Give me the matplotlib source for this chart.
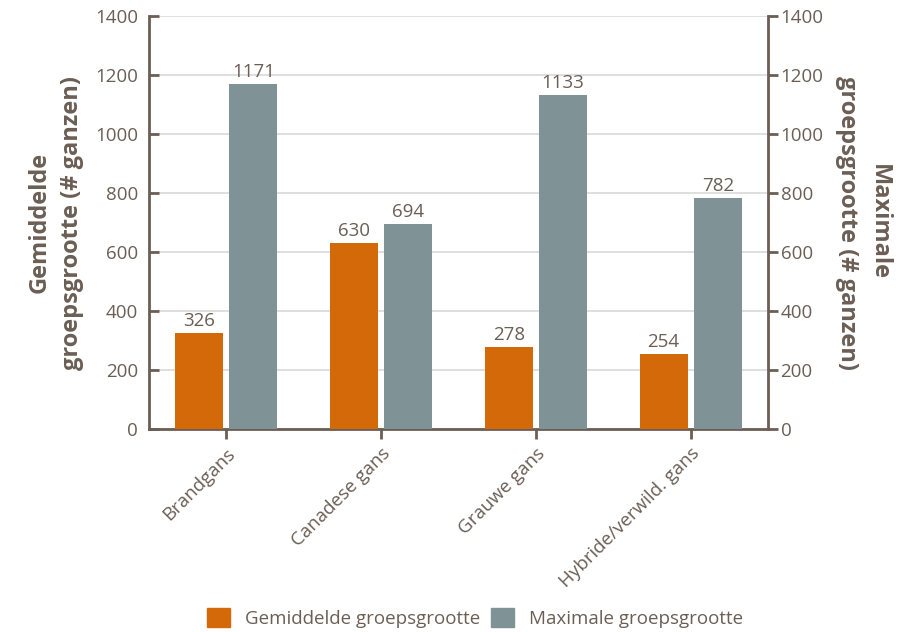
import numpy as np
import matplotlib.pyplot as plt
from matplotlib.patches import Patch

categories = ['Brandgans', 'Canadese gans', 'Grauwe gans', 'Hybride/verwild. gans']
gemiddelde = [326, 630, 278, 254]
maximale = [1171, 694, 1133, 782]

TXT = '#6B5E55'
ORANGE = '#D4690A'
GREY = '#7F9397'

plt.rcParams['font.family'] = ['Open Sans', 'DejaVu Sans']

fig = plt.figure(figsize=(9.15, 6.32), dpi=100)
ax = fig.add_axes([149 / 915, 1 - 429 / 632, (768 - 149) / 915, (429 - 16) / 632])

x = np.arange(len(categories))
w = 0.31
b1 = ax.bar(x - 0.175, gemiddelde, w, color=ORANGE, zorder=3)
b2 = ax.bar(x + 0.175, maximale, w, color=GREY, zorder=3)
for bars in (b1, b2):
    for r in bars:
        ax.text(r.get_x() + r.get_width() / 2, r.get_height() + 10, f'{int(r.get_height())}',
                ha='center', va='bottom', fontsize=13.5, color=TXT)

ax.set_xlim(-0.5, len(categories) - 0.5)
ax.set_ylim(0, 1400)
ax.set_yticks(range(0, 1401, 200))
ax.grid(axis='y', color='#D9D9D9', linewidth=1.2, zorder=0)
ax.set_xticks(x)
ax.set_xticklabels(categories, rotation=45, ha='right', rotation_mode='anchor')

for s in ['top', 'right']:
    ax.spines[s].set_visible(False)
for s in ['left', 'bottom']:
    ax.spines[s].set_color(TXT)
    ax.spines[s].set_linewidth(2)
ax.tick_params(axis='y', direction='in', length=7, width=2, color=TXT, labelcolor=TXT, labelsize=13.5, pad=8)
ax.tick_params(axis='x', direction='out', length=7, width=2, color=TXT, labelcolor=TXT, labelsize=13.5, pad=4)
ax.set_ylabel('Gemiddelde\ngroepsgrootte (# ganzen)', fontsize=17, fontweight='bold', color=TXT,
              labelpad=8, linespacing=1.45)

ax2 = ax.twinx()
ax2.set_ylim(0, 1400)
ax2.set_yticks(range(0, 1401, 200))
for s in ['top', 'left', 'bottom']:
    ax2.spines[s].set_visible(False)
ax2.spines['right'].set_color(TXT)
ax2.spines['right'].set_linewidth(2)
ax2.tick_params(axis='y', direction='out', length=7, width=2, color=TXT, labelcolor=TXT, labelsize=13.5, pad=2)
ax2.set_ylabel('Maximale\ngroepsgrootte (# ganzen)', fontsize=17, fontweight='bold', color=TXT,
               rotation=-90, va='bottom', labelpad=8, linespacing=1.45)

handles = [Patch(color=ORANGE, label='Gemiddelde groepsgrootte'),
           Patch(color=GREY, label='Maximale groepsgrootte')]
fig.legend(handles=handles, loc='center', bbox_to_anchor=(475 / 915, 1 - 618 / 632), ncol=2, frameon=False,
           fontsize=13.5, labelcolor=TXT, handlelength=1.2, handleheight=1.2, columnspacing=0.6, handletextpad=0.8)

fig.savefig('out.png', dpi=100)
